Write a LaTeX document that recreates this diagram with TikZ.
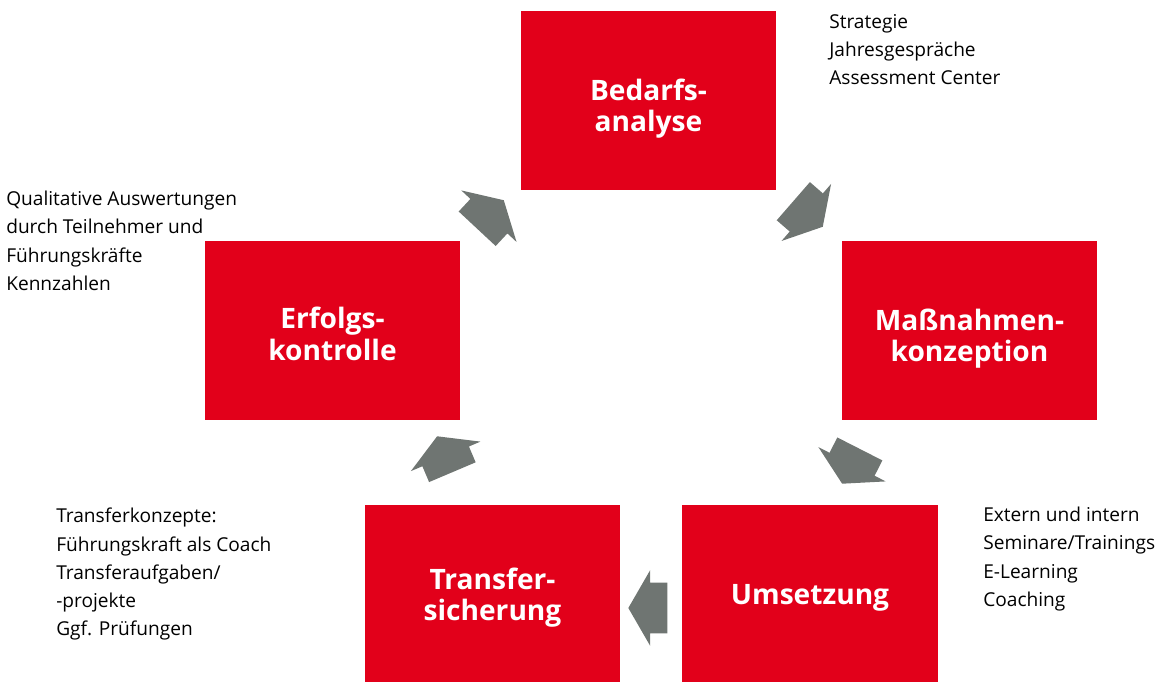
\documentclass[tikz,border=0pt]{standalone}
\usepackage{fontspec}
\setmainfont{Open Sans}
\usepackage{tikz}
\usetikzlibrary{shapes.arrows}
\definecolor{dbred}{HTML}{E2001A}
\definecolor{pfeilgrau}{HTML}{6F7572}
\tikzstyle{box_r} = [rectangle, fill=dbred, inner sep=0pt, minimum width=6.375cm, minimum height=4.475cm]
\tikzstyle{lbl_w} = [text=white, font=\fontsize{20}{22.5}\selectfont\bfseries, align=center, inner sep=0pt]
\tikzstyle{arr_g} = [single arrow, fill=pfeilgrau, anchor=tip, inner xsep=0pt, inner ysep=0.625cm, minimum height=0.975cm, single arrow head extend=0.3125cm, single arrow tip angle=120]
\tikzstyle{txt_l} = [anchor=north west, align=left, inner sep=0pt, font=\fontsize{13.6}{20}\selectfont]

\begin{document}
\begin{tikzpicture}[x=0.025cm,y=0.025cm]
\useasboundingbox (0,0) rectangle (1158,682);
% the five steps of the cycle
\node [box_r] (bedarf) at (648.5,581.5) {};
\node [box_r] (massn) at (969.5,351.5) {};
\node [box_r, minimum height=4.425cm] (umsetz) at (810,88.5) {};
\node [box_r, minimum height=4.425cm] (transfer) at (492.5,88.5) {};
\node [box_r] (erfolg) at (332.5,351.5) {};
\node [lbl_w] (t_bedarf) at ([yshift=-0.2cm]bedarf) {Bedarfs-\\analyse};
\node [lbl_w] (t_massn) at ([yshift=-0.2cm]massn) {Maßnahmen-\\konzeption};
\node [lbl_w] (t_umsetz) at ([yshift=-0.12cm]umsetz) {Umsetzung};
\node [lbl_w] (t_transfer) at ([yshift=-0.1cm]transfer) {Transfer-\\sicherung};
\node [lbl_w] (t_erfolg) at ([yshift=-0.08cm]erfolg) {Erfolgs-\\kontrolle};
% block arrows between the steps, placed by their tips
\node [arr_g, rotate=47] (pf_eb) at (504,482) {};
\node [arr_g, rotate=-41] (pf_bm) at (823,455) {};
\node [arr_g, rotate=-117] (pf_mu) at (842,198) {};
\node [arr_g, rotate=180] (pf_ut) at (628,74) {};
\node [arr_g, rotate=113] (pf_te) at (437,246) {};
% notes next to the steps
\node [txt_l] (n_bedarf) at (829,668) {Strategie\\Jahresgespräche\\Assessment Center};
\node [txt_l] (n_erfolg) at (6,491) {Qualitative Auswertungen\\durch Teilnehmer und\\Führungskräfte\\Kennzahlen};
\node [txt_l] (n_transfer) at (56,174) {Transferkonzepte:\\Führungskraft als Coach\\Transferaufgaben/\\-projekte\\Ggf. Prüfungen};
\node [txt_l] (n_umsetz) at (983,175) {Extern und intern\\Seminare/Trainings\\E-Learning\\Coaching};
\end{tikzpicture}
\end{document}
